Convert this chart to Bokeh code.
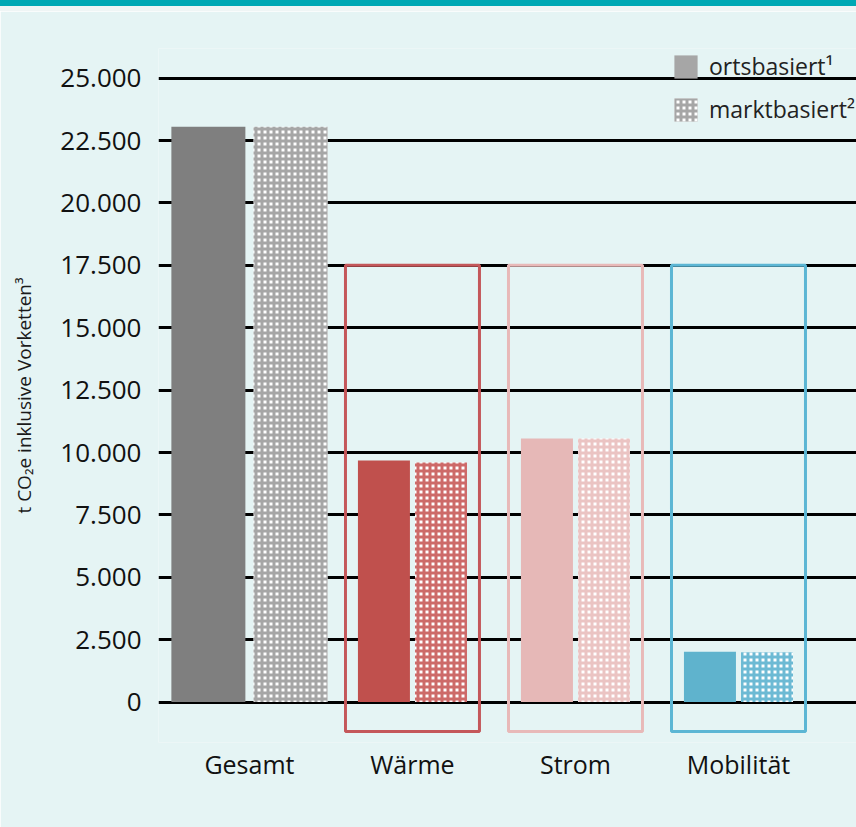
from bokeh.plotting import figure
from bokeh.models import (ColumnDataSource, Range1d, FixedTicker, Grid, Legend,
                          LegendItem, Div)
from bokeh.layouts import column
from bokeh.embed import file_html
from bokeh.resources import INLINE

# ---------------- data ----------------
categories = ["Gesamt", "Wärme", "Strom", "Mobilität"]
ortsbasiert = [23050, 9680, 10560, 2020]
marktbasiert = [23050, 9600, 10560, 2000]
y_ticks = [0, 2500, 5000, 7500, 10000, 12500, 15000, 17500, 20000, 22500, 25000]
y_tick_labels = ["0", "2.500", "5.000", "7.500", "10.000", "12.500", "15.000",
                 "17.500", "20.000", "22.500", "25.000"]
legend_labels = ["ortsbasiert\u00b9", "marktbasiert\u00b2"]
y_axis_label = "t CO\u2082e inklusive Vorketten\u00b3"

# ---------------- style ----------------
BG = "#e5f4f4"
TEAL = "#00a8b4"
STRIP = "#eff5f5"
FONT = "Open Sans"
solid_colors = ["#7f7f7f", "#c0504d", "#e6b8b7", "#5fb3cd"]
hatch_colors = ["#a6a6a6", "#cd6a69", "#ebc4c3", "#6dbad4"]
box_colors = ["#c4575a", "#e8b9b8", "#5cb6d4"]
legend_solid = "#a6a6a6"
legend_hatch = "#a6a6a6"

idx = list(range(len(categories)))
bar_w = [0.454 if i == 0 else 0.319 for i in idx]
bar_off = [0.252 if i == 0 else 0.175 for i in idx]

X0, X1, XG = -0.558, 3.724, 3.564
p = figure(width=856, height=816,
           x_range=Range1d(X0, X1), y_range=Range1d(-1620, 26190),
           output_backend="svg", toolbar_location=None,
           min_border_left=158, min_border_right=0,
           min_border_top=37, min_border_bottom=85,
           background_fill_color=BG, border_fill_color=BG,
           outline_line_color=None)

# grid lines
p.xgrid.visible = False
p.ygrid.ticker = FixedTicker(ticks=y_ticks[:-1])
p.ygrid.grid_line_color = "black"
p.ygrid.grid_line_width = 3
p.ygrid.bounds = (X0, XG)
top_grid = Grid(dimension=1, ticker=FixedTicker(ticks=y_ticks[-1:]),
                bounds=(X0, 2.2), grid_line_color="black", grid_line_width=3)
p.add_layout(top_grid)

# bars
src_solid = ColumnDataSource(dict(
    x=[i - o for i, o in zip(idx, bar_off)], top=ortsbasiert, w=bar_w,
    color=solid_colors))
src_hatch = ColumnDataSource(dict(
    x=[i + o for i, o in zip(idx, bar_off)], top=marktbasiert, w=bar_w,
    hcolor=hatch_colors))
p.vbar(x="x", top="top", bottom=0, width="w", source=src_solid,
       fill_color="color", line_color=None)
p.vbar(x="x", top="top", bottom=0, width="w", source=src_hatch,
       fill_color="white", line_color=None, hatch_pattern="+",
       hatch_color="hcolor", hatch_scale=6, hatch_weight=3)

# group boxes
box_half = 0.411
src_box = ColumnDataSource(dict(
    left=[i - box_half for i in idx[1:]], right=[i + box_half for i in idx[1:]],
    top=[17500] * 3, bottom=[-1175] * 3, color=box_colors))
p.quad(left="left", right="right", top="top", bottom="bottom", source=src_box,
       fill_color=None, line_color="color", line_width=3)

# legend (hidden renderers, outside of the visible range)
r_solid = p.vbar(x=[X0 - 5], top=[1], width=0.1, fill_color=legend_solid,
                 line_color=None)
r_hatch = p.vbar(x=[X0 - 5], top=[1], width=0.1, fill_color="white",
                 line_color=None, hatch_pattern="+", hatch_color=legend_hatch,
                 hatch_scale=6, hatch_weight=3)
legend = Legend(items=[LegendItem(label=legend_labels[0], renderers=[r_solid]),
                       LegendItem(label=legend_labels[1], renderers=[r_hatch])],
                location=(513, 617), glyph_width=29, glyph_height=29,
                label_height=29, spacing=11, padding=0, margin=0,
                label_standoff=9, label_text_font=FONT,
                label_text_font_size="23px", label_text_color="#222222",
                background_fill_alpha=0, border_line_alpha=0)
p.add_layout(legend)

# axes
p.yaxis.ticker = FixedTicker(ticks=y_ticks)
p.yaxis.major_label_overrides = {t: l for t, l in zip(y_ticks, y_tick_labels)}
p.yaxis.major_label_text_font = FONT
p.yaxis.major_label_text_font_size = "26px"
p.yaxis.major_label_text_color = "#111111"
p.yaxis.major_label_standoff = 17
p.yaxis.axis_label = y_axis_label
p.yaxis.axis_label_text_font = FONT
p.yaxis.axis_label_text_font_size = "19px"
p.yaxis.axis_label_text_font_style = "normal"
p.yaxis.axis_label_text_color = "#1a1a1a"
p.yaxis.axis_label_standoff = 20

p.xaxis.ticker = FixedTicker(ticks=idx)
p.xaxis.major_label_overrides = {i: c for i, c in zip(idx, categories)}
p.xaxis.major_label_text_font = FONT
p.xaxis.major_label_text_font_size = "25px"
p.xaxis.major_label_text_color = "#111111"
p.xaxis.major_label_standoff = 4

for ax in (p.xaxis, p.yaxis):
    ax.axis_line_color = None
    ax.major_tick_line_color = None
    ax.minor_tick_line_color = None
    ax.major_tick_out = 0
    ax.major_tick_in = 0
    ax.minor_tick_out = 0
    ax.minor_tick_in = 0

band = Div(text="", width=856, height=6, margin=0,
           styles={"background-color": TEAL})
strip = Div(text="", width=856, height=5, margin=0,
            styles={"background-color": STRIP})

layout = column(band, strip, p, spacing=0)
open("out.html", "w").write(file_html(layout, INLINE))
